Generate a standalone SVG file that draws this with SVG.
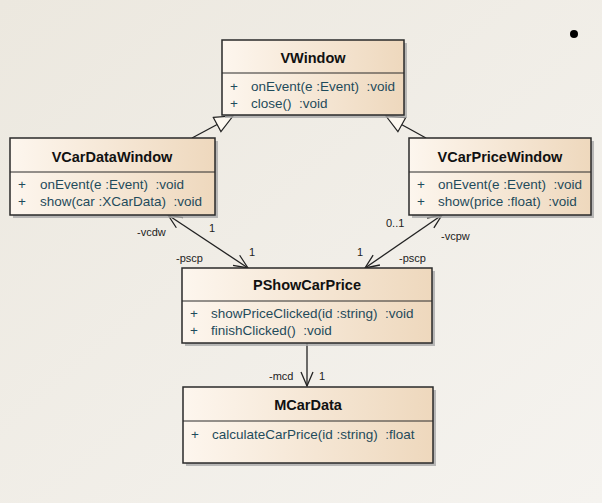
<svg xmlns="http://www.w3.org/2000/svg" width="602" height="503" viewBox="0 0 602 503" xml:space="preserve">
<defs>
<linearGradient id="bg" x1="0" y1="0" x2="1" y2="1">
<stop offset="0" stop-color="#ece8df"/>
<stop offset="1" stop-color="#f5f3ef"/>
</linearGradient>
<linearGradient id="box" x1="0" y1="0" x2="1" y2="0">
<stop offset="0" stop-color="#fdf6ee"/>
<stop offset="1" stop-color="#eed8bd"/>
</linearGradient>
<marker id="gen" viewBox="0 0 20 20" refX="19" refY="10" markerWidth="20" markerHeight="20" markerUnits="userSpaceOnUse" orient="auto">
<path d="M1,2 L19,10 L1,18 Z" fill="#fdf8f0" stroke="#222" stroke-width="1.2"/>
</marker>
<marker id="open" viewBox="0 0 16 16" refX="15" refY="8" markerWidth="16" markerHeight="16" markerUnits="userSpaceOnUse" orient="auto-start-reverse">
<path d="M1,2 L15,8 L1,14" fill="none" stroke="#222" stroke-width="1.3"/>
</marker>
</defs>
<style>
.shadow{fill:#a9a9a9;opacity:0.8}
.frame{fill:url(#box);stroke:#2a2a2a;stroke-width:1.5}
.div{stroke:#2a2a2a;stroke-width:1}
.title{font-family:"Liberation Sans",Arial,sans-serif;font-weight:bold;font-size:14.5px;fill:#111;text-anchor:middle}
.mem{font-family:"Liberation Sans",Arial,sans-serif;font-size:13.5px;fill:#1f4b5b;white-space:pre}
.lbl{font-family:"Liberation Sans",Arial,sans-serif;font-size:11px;fill:#222}
.edge{stroke:#222;stroke-width:1.3;fill:none}
</style>
<rect width="602" height="503" fill="url(#bg)"/>
<circle cx="574" cy="34" r="4" fill="#000"/>
<g id="connectors">
<line class="edge" x1="192" y1="138" x2="233" y2="116" marker-end="url(#gen)"/>
<line class="edge" x1="426" y1="138" x2="386" y2="116" marker-end="url(#gen)"/>
<line class="edge" x1="168" y1="215" x2="248" y2="268" marker-start="url(#open)" marker-end="url(#open)"/>
<line class="edge" x1="442" y1="215" x2="365" y2="268" marker-start="url(#open)" marker-end="url(#open)"/>
<line class="edge" x1="307" y1="343" x2="307" y2="386" marker-end="url(#open)"/>
<text class="lbl" x="137" y="236">-vcdw</text>
<text class="lbl" x="209" y="232">1</text>
<text class="lbl" x="249" y="256">1</text>
<text class="lbl" x="176" y="262">-pscp</text>
<text class="lbl" x="386" y="227">0..1</text>
<text class="lbl" x="441" y="240">-vcpw</text>
<text class="lbl" x="357" y="256">1</text>
<text class="lbl" x="399" y="262">-pscp</text>
<text class="lbl" x="269" y="380">-mcd</text>
<text class="lbl" x="319" y="380">1</text>
</g>
<g id="VWindow">
<rect class="shadow" x="225" y="43" width="182" height="75"/>
<rect class="frame" x="222" y="40" width="182" height="75"/>
<line class="div" x1="222" y1="73" x2="404" y2="73"/>
<text class="title" x="313" y="63">VWindow</text>
<text class="mem" x="230" y="91">+</text>
<text class="mem" x="251" y="91">onEvent(e :Event)  :void</text>
<text class="mem" x="230" y="108">+</text>
<text class="mem" x="251" y="108">close()  :void</text>
</g>
<g id="VCarDataWindow">
<rect class="shadow" x="13" y="141" width="205" height="77"/>
<rect class="frame" x="10" y="138" width="205" height="77"/>
<line class="div" x1="10" y1="172" x2="215" y2="172"/>
<text class="title" x="112" y="162">VCarDataWindow</text>
<text class="mem" x="18" y="189">+</text>
<text class="mem" x="40" y="189">onEvent(e :Event)  :void</text>
<text class="mem" x="18" y="206">+</text>
<text class="mem" x="40" y="206">show(car :XCarData)  :void</text>
</g>
<g id="VCarPriceWindow">
<rect class="shadow" x="412" y="141" width="182" height="77"/>
<rect class="frame" x="409" y="138" width="182" height="77"/>
<line class="div" x1="409" y1="172" x2="591" y2="172"/>
<text class="title" x="500" y="162">VCarPriceWindow</text>
<text class="mem" x="417" y="189">+</text>
<text class="mem" x="438" y="189">onEvent(e :Event)  :void</text>
<text class="mem" x="417" y="206">+</text>
<text class="mem" x="438" y="206">show(price :float)  :void</text>
</g>
<g id="PShowCarPrice">
<rect class="shadow" x="185" y="271" width="250" height="75"/>
<rect class="frame" x="182" y="268" width="250" height="75"/>
<line class="div" x1="182" y1="301" x2="432" y2="301"/>
<text class="title" x="307" y="290">PShowCarPrice</text>
<text class="mem" x="190" y="318">+</text>
<text class="mem" x="211" y="318">showPriceClicked(id :string)  :void</text>
<text class="mem" x="190" y="335">+</text>
<text class="mem" x="211" y="335">finishClicked()  :void</text>
</g>
<g id="MCarData">
<rect class="shadow" x="186" y="390" width="250" height="76"/>
<rect class="frame" x="183" y="387" width="250" height="76"/>
<line class="div" x1="183" y1="421" x2="433" y2="421"/>
<text class="title" x="308" y="410">MCarData</text>
<text class="mem" x="191" y="439">+</text>
<text class="mem" x="212" y="439">calculateCarPrice(id :string)  :float</text>
</g>
</svg>
